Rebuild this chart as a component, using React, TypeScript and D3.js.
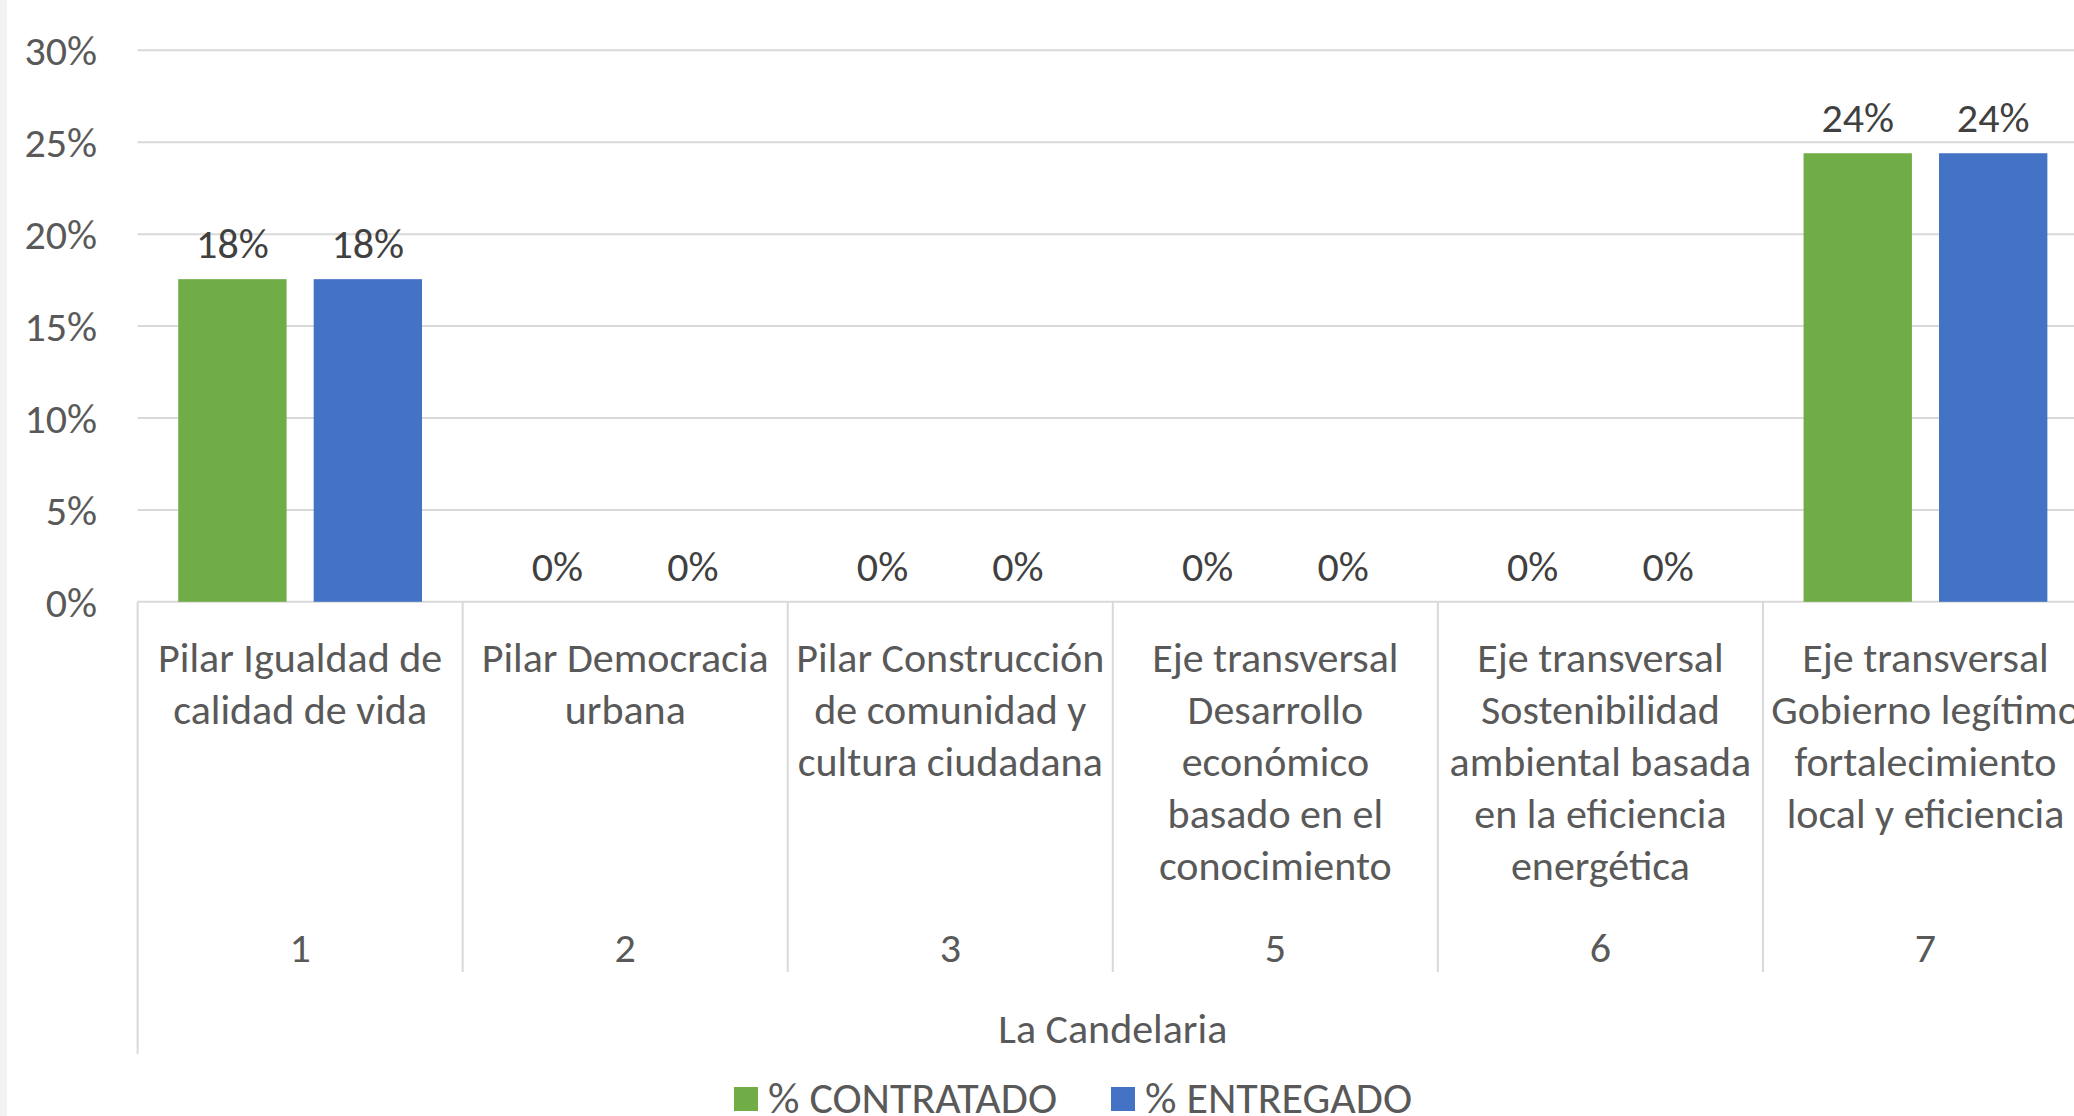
import { useEffect, useRef } from 'react';
import * as d3 from 'd3';

const categoryIds = ['1', '2', '3', '5', '6', '7'];
const categoryLabels = [
  ['Pilar Igualdad de', 'calidad de vida'],
  ['Pilar Democracia', 'urbana'],
  ['Pilar Construcción', 'de comunidad y', 'cultura ciudadana'],
  ['Eje transversal', 'Desarrollo', 'económico', 'basado en el', 'conocimiento'],
  ['Eje transversal', 'Sostenibilidad', 'ambiental basada', 'en la eficiencia', 'energética'],
  ['Eje transversal', 'Gobierno legítimo', 'fortalecimiento', 'local y eficiencia'],
];
const groupLabel = 'La Candelaria';
const seriesNames = ['% CONTRATADO', '% ENTREGADO'];
const contratado = [0.1755, 0, 0, 0, 0, 0.244];
const entregado = [0.1755, 0, 0, 0, 0, 0.244];
const yTicks = [0, 0.05, 0.1, 0.15, 0.2, 0.25, 0.3];
const colors = ['#70ad47', '#4472c4'];

export default function App() {
  const svgRef = useRef<SVGSVGElement>(null);

  useEffect(() => {
    const svg = d3.select(svgRef.current);
    svg.selectAll('*').remove();

    const width = 2074;
    const height = 1116;
    const font = 'Carlito, Calibri, Lato, sans-serif';
    const fs = '42px';
    const axisColor = '#d9d9d9';
    const textColor = '#595959';

    svg.attr('width', width).attr('height', height);

    // light strip at the left edge
    svg.append('rect').attr('x', 0).attr('y', 0).attr('width', 7).attr('height', height).attr('fill', '#f2f2f2');

    const left = 137.6;
    const right = 2088;
    const baseY = 601.8;
    const topY = 50.3;

    const x0 = d3.scaleBand().domain(categoryIds).range([left, right]).padding(0);
    const x1 = d3.scaleBand()
      .domain(seriesNames)
      .range([0, x0.bandwidth()])
      .paddingInner(0.2)
      .paddingOuter(0.3);
    const y = d3.scaleLinear().domain([0, 0.3]).range([baseY, topY]);
    const fmt = d3.format('.0%');

    // gridlines
    svg.append('g')
      .selectAll('line')
      .data(yTicks)
      .join('line')
      .attr('x1', left)
      .attr('x2', right)
      .attr('y1', d => y(d))
      .attr('y2', d => y(d))
      .attr('stroke', axisColor)
      .attr('stroke-width', 2);

    // y tick labels
    svg.append('g')
      .selectAll('text')
      .data(yTicks)
      .join('text')
      .attr('x', 97)
      .attr('y', d => y(d))
      .attr('dy', '0.35em')
      .attr('text-anchor', 'end')
      .style('font-family', font)
      .style('font-size', fs)
      .attr('fill', textColor)
      .text(d => fmt(d));

    const rows = categoryIds.map((id, i) => ({ id, values: [contratado[i], entregado[i]] }));

    const groups = svg.append('g')
      .selectAll('g')
      .data(rows)
      .join('g')
      .attr('transform', d => `translate(${x0(d.id)},0)`);

    groups.selectAll('rect')
      .data(d => d.values.map((v, k) => ({ key: seriesNames[k], v, k })))
      .join('rect')
      .attr('x', d => x1(d.key)!)
      .attr('y', d => y(d.v))
      .attr('width', x1.bandwidth())
      .attr('height', d => baseY - y(d.v))
      .attr('fill', d => colors[d.k]);

    groups.selectAll('text.val')
      .data(d => d.values.map((v, k) => ({ key: seriesNames[k], v, k })))
      .join('text')
      .attr('class', 'val')
      .attr('x', d => x1(d.key)! + x1.bandwidth() / 2)
      .attr('y', d => y(d.v) - 36)
      .attr('dy', '0.35em')
      .attr('text-anchor', 'middle')
      .style('font-family', font)
      .style('font-size', fs)
      .attr('fill', '#404040')
      .text(d => fmt(d.v));

    // category axis dividers
    const bounds = categoryIds.map(id => x0(id)!).concat([right]);
    svg.append('g')
      .selectAll('line')
      .data(bounds)
      .join('line')
      .attr('x1', d => d)
      .attr('x2', d => d)
      .attr('y1', baseY)
      .attr('y2', (d, i) => (i === 0 || i === bounds.length - 1 ? 1054 : 972))
      .attr('stroke', axisColor)
      .attr('stroke-width', 2);

    // category labels
    const cat = svg.append('g')
      .selectAll('g')
      .data(categoryIds)
      .join('g')
      .attr('transform', d => `translate(${x0(d)! + x0.bandwidth() / 2},0)`);

    cat.each(function (id, i) {
      const g = d3.select(this);
      categoryLabels[i].forEach((line, j) => {
        g.append('text')
          .attr('y', 657 + j * 52)
          .attr('dy', '0.35em')
          .attr('text-anchor', 'middle')
          .style('font-family', font)
          .style('font-size', fs)
          .attr('fill', textColor)
          .text(line);
      });
      g.append('text')
        .attr('y', 947)
        .attr('dy', '0.35em')
        .attr('text-anchor', 'middle')
        .style('font-family', font)
        .style('font-size', fs)
        .attr('fill', textColor)
        .text(id);
    });

    svg.append('text')
      .attr('x', (left + right) / 2)
      .attr('y', 1028)
      .attr('dy', '0.35em')
      .attr('text-anchor', 'middle')
      .style('font-family', font)
      .style('font-size', fs)
      .attr('fill', textColor)
      .text(groupLabel);

    // legend
    const legendX = [734, 1111];
    const legend = svg.append('g')
      .selectAll('g')
      .data(seriesNames)
      .join('g')
      .attr('transform', (d, i) => `translate(${legendX[i]},1098)`);
    legend.append('rect')
      .attr('x', 0)
      .attr('y', -11)
      .attr('width', 24)
      .attr('height', 24)
      .attr('fill', (d, i) => colors[i]);
    legend.append('text')
      .attr('x', 34)
      .attr('y', 0)
      .attr('dy', '0.35em')
      .style('font-family', font)
      .style('font-size', '44px')
      .attr('fill', textColor)
      .text(d => d);
  }, []);

  return (
    <>
      <style>{'body{margin:0;overflow:hidden}'}</style>
      <svg ref={svgRef} style={{ display: 'block', background: '#fff' }}></svg>
    </>
  );
}
